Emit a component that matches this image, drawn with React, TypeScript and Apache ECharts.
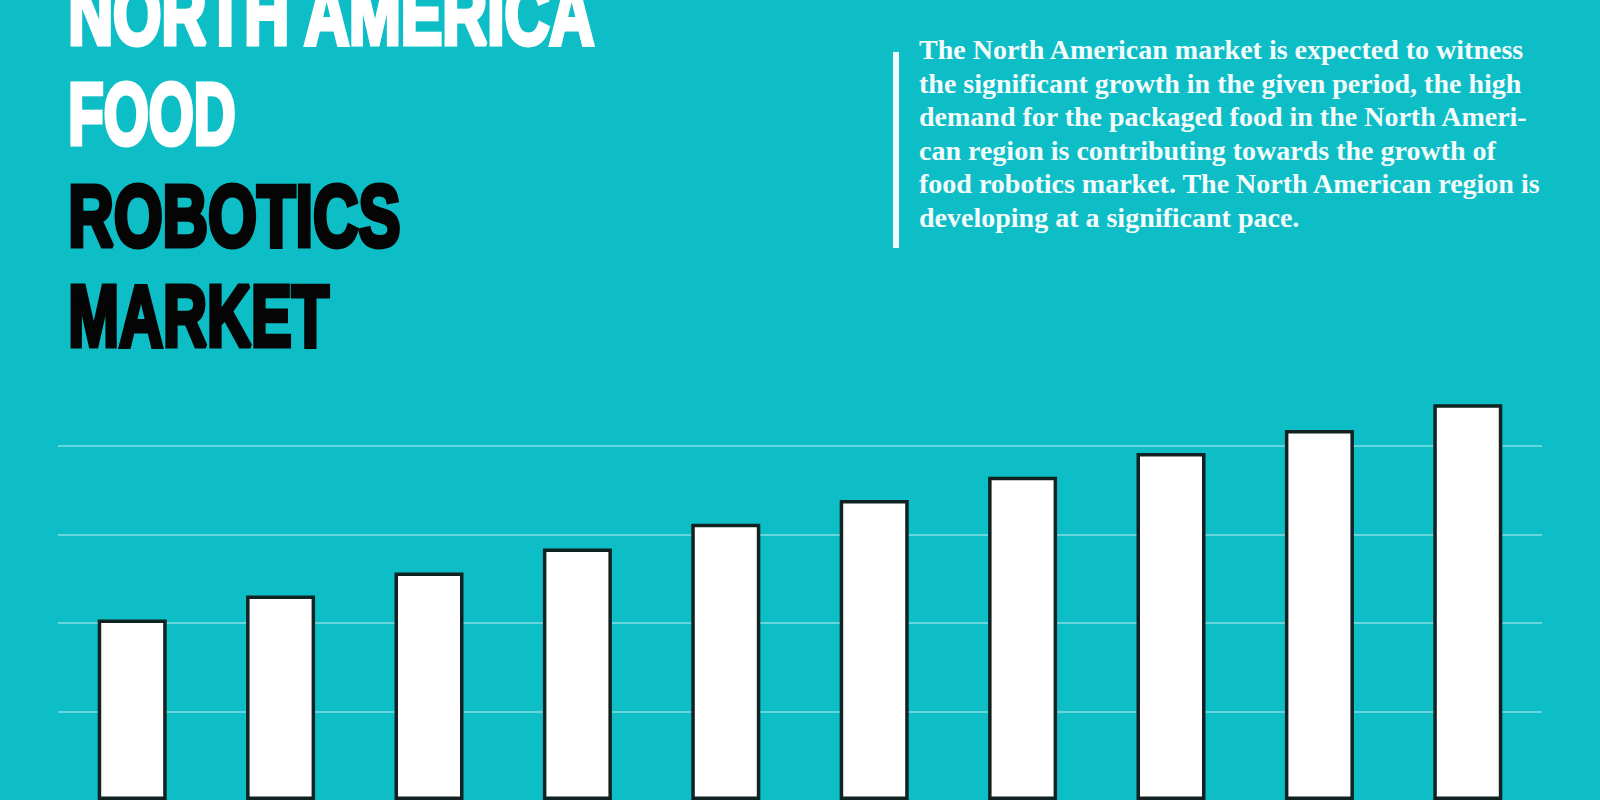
import React, { useEffect, useRef } from "react";
import * as echarts from "echarts";

// ---------- data ----------
const years = ["2018", "2019", "2020", "2021", "2022", "2023", "2024", "2025", "2026", "2027"];
const marketValues = [2.04, 2.31, 2.57, 2.84, 3.12, 3.39, 3.65, 3.92, 4.18, 4.47];
const yMin = 0;
const yMax = 5;
const yInterval = 1;

const titleLines = ["NORTH AMERICA", "FOOD", "ROBOTICS", "MARKET"];
const titleColors = ["#ffffff", "#ffffff", "#050505", "#050505"];
const paragraphLines = [
  "The North American market is expected to witness",
  "the significant growth in the given period, the high",
  "demand for the packaged food in the North Ameri-",
  "can region is contributing towards the growth of",
  "food robotics market. The North American region is",
  "developing at a significant pace.",
];

// ---------- layout ----------
const W = 1600;
const H = 800;
const BG = "#0ebec7";
const titleLeft = 70;
const titleInkWidths = [527, 165, 330, 260];
const titleInkBottoms = [46.7, 146.7, 248.3, 348.3];
const titleCapHeight = 67;
const titleStroke = 5;
const paraX = 919;
const paraBaseline0 = 59.3;
const paraPitch = 33.45;
const paraFontSize = 28;

function fontExists(fam: string): boolean {
  const ctx = document.createElement("canvas").getContext("2d");
  if (!ctx) return false;
  ctx.font = `bold 40px "${fam}", monospace`;
  const a = ctx.measureText("ROBOTICS mwil").width;
  ctx.font = `bold 40px "${fam}", serif`;
  const b = ctx.measureText("ROBOTICS mwil").width;
  return a === b;
}

function buildTitle(): any[] {
  const fam = fontExists("Liberation Sans Narrow") ? "Liberation Sans Narrow" : "Liberation Sans";
  const capRatio = 0.716;
  const centralRatio = 0.3465;
  const fs = (titleCapHeight - titleStroke) / capRatio;
  const ctx = document.createElement("canvas").getContext("2d") as CanvasRenderingContext2D;
  ctx.font = `bold ${fs}px "${fam}"`;
  return titleLines.map((t, i) => {
    const m = ctx.measureText(t);
    const inkW = m.actualBoundingBoxLeft + m.actualBoundingBoxRight;
    const sx = titleInkWidths[i] / (inkW + titleStroke);
    const x = titleLeft + sx * (m.actualBoundingBoxLeft + titleStroke / 2);
    const baseline = titleInkBottoms[i] - titleStroke / 2;
    const y = baseline - centralRatio * fs;
    return {
      type: "text",
      x,
      y,
      scaleX: sx,
      silent: true,
      z: 10,
      style: {
        text: t,
        fontFamily: fam,
        fontWeight: "bold",
        fontSize: fs,
        fill: titleColors[i],
        stroke: titleColors[i],
        lineWidth: titleStroke,
        align: "left",
        verticalAlign: "middle",
        textAlign: "left",
        textVerticalAlign: "middle",
      },
    };
  });
}

function buildParagraph(): any[] {
  const central = 0.3375 * paraFontSize;
  const items: any[] = paragraphLines.map((t, i) => ({
    type: "text",
    x: paraX,
    y: paraBaseline0 + i * paraPitch - central,
    silent: true,
    z: 10,
    style: {
      text: t,
      fontFamily: "Liberation Serif",
      fontWeight: "bold",
      fontSize: paraFontSize,
      fill: "#f4fbfb",
      align: "left",
      verticalAlign: "middle",
      textAlign: "left",
      textVerticalAlign: "middle",
    },
  }));
  items.push({
    type: "rect",
    silent: true,
    z: 10,
    shape: { x: 893, y: 52, width: 6, height: 196 },
    style: { fill: "#f4fbfb" },
  });
  return items;
}

export default function App() {
  const ref = useRef<HTMLDivElement>(null);

  useEffect(() => {
    document.body.style.margin = "0";
    if (!ref.current) return;
    const chart = echarts.init(ref.current, undefined, { renderer: "svg", width: W, height: H });
    const option: any = {
      animation: false,
      backgroundColor: BG,
      grid: { left: 58, right: 58, top: 804 - 89.33 * yMax, bottom: -4, containLabel: false },
      xAxis: {
        type: "category",
        data: years,
        axisLine: { show: false },
        axisTick: { show: false },
        axisLabel: { show: false },
        splitLine: { show: false },
      },
      yAxis: {
        type: "value",
        min: yMin,
        max: yMax,
        interval: yInterval,
        axisLine: { show: false },
        axisTick: { show: false },
        axisLabel: { show: false },
        splitLine: {
          show: true,
          showMinLine: false,
          showMaxLine: false,
          lineStyle: { color: "#84dee3", width: 1.5 },
        },
      },
      series: [
        {
          type: "bar",
          data: marketValues,
          barWidth: 69,
          itemStyle: { color: "#ffffff", borderColor: "#112222", borderWidth: 3.5 },
          silent: true,
        },
      ],
      graphic: { elements: [...buildTitle(), ...buildParagraph()] },
    };
    chart.setOption(option);
    return () => chart.dispose();
  }, []);

  return (
    <div
      ref={ref}
      style={{ position: "absolute", left: 0, top: 0, width: W, height: H, overflow: "hidden" }}
    />
  );
}
